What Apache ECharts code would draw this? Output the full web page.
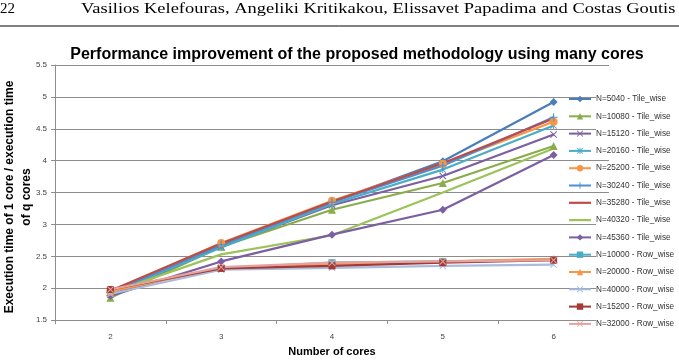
<!DOCTYPE html>
<html>
<head>
<meta charset="utf-8">
<script src="https://cdn.jsdelivr.net/npm/echarts@6/dist/echarts.min.js"></script>
<style>
  html, body { margin: 0; padding: 0; background: #fff; }
  #chart { width: 679px; height: 362px; }
</style>
</head>
<body>
<div id="chart"></div>
<script>
// number of cores
var cores = ['2', '3', '4', '5', '6'];

// speedup values
var n5040 = [1.88, 2.67, 3.35, 3.99, 4.92];
var n10080 = [1.85, 2.65, 3.23, 3.65, 4.23];
var n15120 = [1.90, 2.65, 3.30, 3.76, 4.41];
var n20160 = [1.92, 2.64, 3.32, 3.86, 4.55];
var n25200 = [1.95, 2.71, 3.37, 3.95, 4.61];
var n30240 = [1.93, 2.68, 3.35, 3.92, 4.68];
var n35280 = [1.96, 2.70, 3.36, 3.96, 4.66];
var n40320 = [1.93, 2.53, 2.83, 3.50, 4.19];
var n45360 = [1.88, 2.42, 2.84, 3.23, 4.09];
var r10000 = [1.96, 2.31, 2.40, 2.42, 2.44];
var r20000 = [1.95, 2.32, 2.38, 2.42, 2.46];
var r40000 = [1.91, 2.29, 2.32, 2.35, 2.37];
var r15200 = [1.98, 2.31, 2.35, 2.40, 2.44];
var r32000 = [1.98, 2.33, 2.40, 2.42, 2.44];

var X = 'path://M0,1L1,0L5,4L9,0L10,1L6,5L10,9L9,10L5,6L1,10L0,9L4,5Z';
var PLUS = 'path://M4.3,0H5.7V4.3H10V5.7H5.7V10H4.3V5.7H0V4.3H4.3Z';
var STAR = 'path://M0,1L1,0L4.3,3.3V0H5.7V3.3L9,0L10,1L6,5L10,9L9,10L5.7,6.7V10H4.3V6.7L1,10L0,9L4,5Z';
var BAR = 'path://M0,3.9H22V6.1H0Z';

var mk = function(name, data, color, symbol, size){
	return {
		name: name,
		type: 'line',
		data: data,
		symbol: symbol,
		symbolSize: size,
		showSymbol: symbol != 'none',
		lineStyle: {color: color, width: 2.2},
		itemStyle: {color: color},
		emphasis: {disabled: true},
		animation: false
	};
};

var series = [
	mk('N=5040 - Tile_wise', n5040, '#4A7EBB', 'diamond', 8),
	mk('N=10080 - Tile_wise', n10080, '#8AAD4C', 'triangle', 8),
	mk('N=15120 - Tile_wise', n15120, '#7D5FA0', X, 7),
	mk('N=20160 - Tile_wise', n20160, '#4BACC6', STAR, 7),
	mk('N=25200 - Tile_wise', n25200, '#F79646', 'circle', 8),
	mk('N=30240 - Tile_wise', n30240, '#4F8FD0', PLUS, 8),
	mk('N=35280 - Tile_wise', n35280, '#BE4B48', 'none', 0),
	mk('N=40320 - Tile_wise', n40320, '#9BC35A', 'none', 0),
	mk('N=45360 - Tile_wise', n45360, '#7B5FA0', 'diamond', 8),
	mk('N=10000 - Row_wise', r10000, '#4BACC6', 'rect', 7),
	mk('N=20000 - Row_wise', r20000, '#F79646', 'triangle', 8),
	mk('N=40000 - Row_wise', r40000, '#A9BCE0', X, 7),
	mk('N=15200 - Row_wise', r15200, '#A33A36', 'rect', 7),
	mk('N=32000 - Row_wise', r32000, '#E4A3A1', X, 7)
];

// series without markers get a plain line icon
var legendData = series.map(function(s){
	return s.symbol == 'none' ? {name: s.name, icon: BAR} : {name: s.name};
});

var myChart = echarts.init(document.getElementById('chart'));
var option = {
	backgroundColor: '#fff',
	animation: false,
	title: {
		text: 'Performance improvement of the proposed methodology using many cores',
		left: 352,
		top: 42,
		textAlign: 'center',
		textStyle: {fontFamily: 'Liberation Sans', fontWeight: 'bold', fontSize: 16, color: '#000'}
	},
	grid: {left: 55, right: 70, top: 65, bottom: 34},
	legend: {
		orient: 'vertical',
		left: 568,
		top: 93,
		padding: 0,
		itemWidth: 22,
		itemHeight: 8,
		itemGap: 5.3,
		data: legendData,
		textStyle: {
			fontFamily: 'Liberation Sans',
			fontSize: 8.2,
			color: '#333',
			lineHeight: 10,
			backgroundColor: '#fff',
			padding: [1, 2, 1, 0]
		}
	},
	xAxis: {
		type: 'category',
		data: cores,
		boundaryGap: true,
		name: 'Number of cores',
		nameLocation: 'middle',
		nameGap: 24,
		nameTextStyle: {fontFamily: 'Liberation Sans', fontWeight: 'bold', fontSize: 11, color: '#000'},
		axisLine: {lineStyle: {color: '#8C8C8C'}},
		axisTick: {show: true, length: 4, lineStyle: {color: '#8C8C8C'}},
		axisLabel: {fontFamily: 'Liberation Sans', fontSize: 8, color: '#444', margin: 13}
	},
	yAxis: {
		type: 'value',
		min: 1.5,
		max: 5.5,
		interval: 0.5,
		axisLine: {show: true, lineStyle: {color: '#8C8C8C'}},
		axisTick: {show: true, length: 4, lineStyle: {color: '#8C8C8C'}},
		axisLabel: {fontFamily: 'Liberation Sans', fontSize: 8, color: '#444', margin: 8},
		splitLine: {lineStyle: {color: '#8C8C8C', width: 1}}
	},
	graphic: [
		{type: 'text', left: 0, top: 2, style: {text: '22', font: '15px "Liberation Serif"', fill: '#000'}},
		{
			type: 'text', x: 81, y: 2, scaleX: 1.23,
			style: {text: 'Vasilios Kelefouras, Angeliki Kritikakou, Elissavet Papadima and Costas Goutis', font: '15px "Liberation Serif"', fill: '#000'}
		},
		{type: 'line', shape: {x1: 0, y1: 26, x2: 679, y2: 26}, style: {stroke: '#000', lineWidth: 1}},
		{
			type: 'text',
			x: 18, y: 197,
			rotation: Math.PI / 2,
			style: {
				text: 'Execution time of 1 core / execution time\nof q cores',
				font: 'bold 12px "Liberation Sans"',
				fill: '#000',
				align: 'center',
				verticalAlign: 'middle',
				lineHeight: 17
			}
		}
	],
	series: series
};
myChart.setOption(option);
</script>
</body>
</html>
